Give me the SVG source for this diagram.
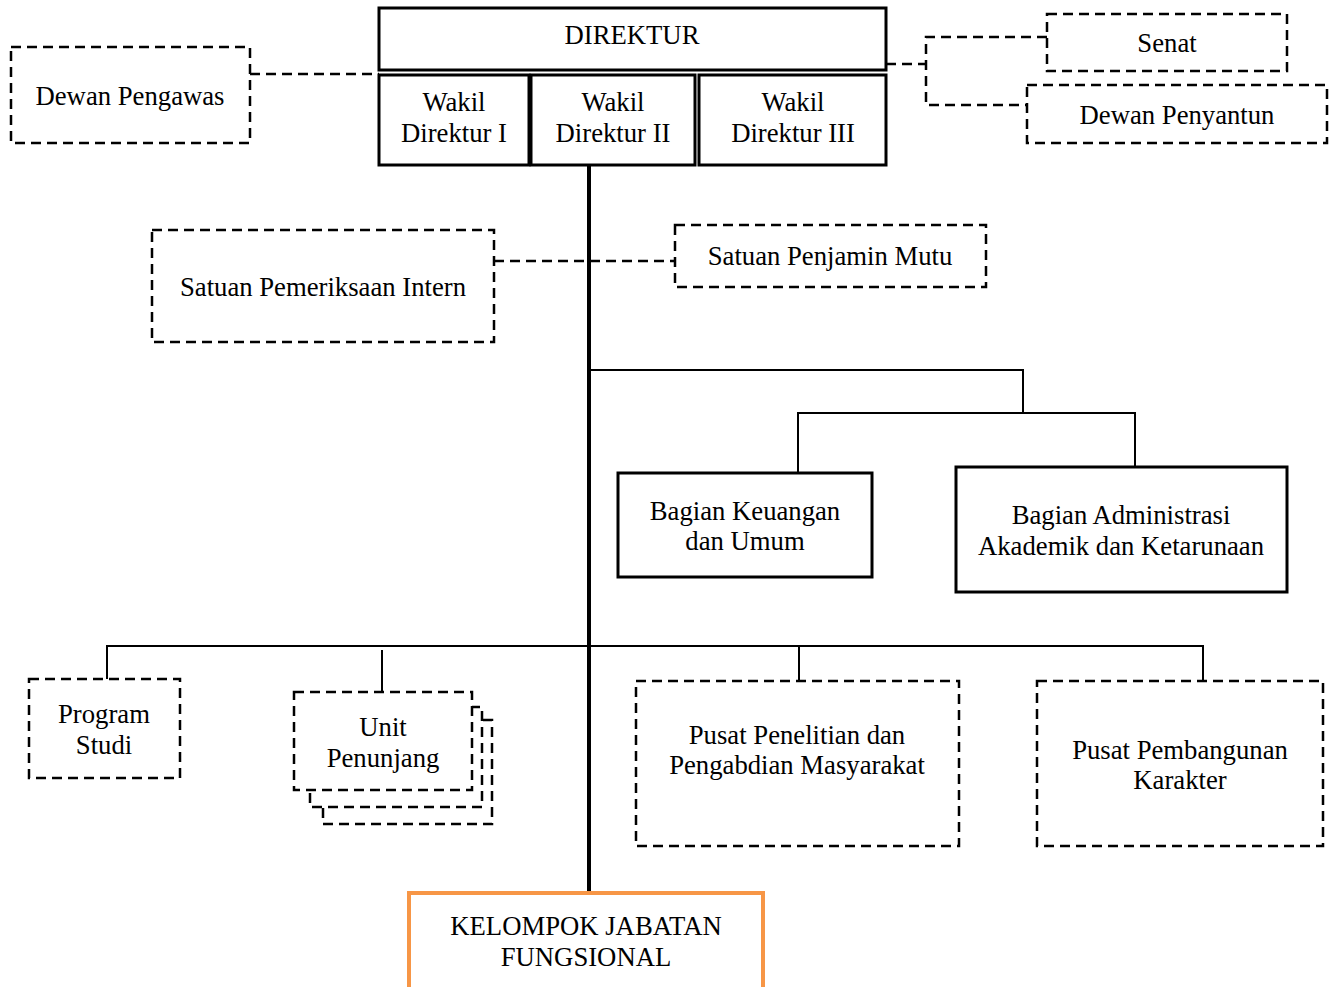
<svg xmlns="http://www.w3.org/2000/svg" width="1337" height="987" viewBox="0 0 1337 987">
<style>
.solid{fill:#fff;stroke:#000;stroke-width:3}
.dash{fill:#fff;stroke:#000;stroke-width:2.5;stroke-dasharray:10 6}
.dl{fill:none;stroke:#000;stroke-width:2.5;stroke-dasharray:10 6}
.thin{fill:none;stroke:#000;stroke-width:2}
.main{fill:none;stroke:#000;stroke-width:4}
text{font-family:"Liberation Serif","Times New Roman",serif;font-size:26.7px;fill:#000;text-anchor:middle}
</style>
<rect width="1337" height="987" fill="#fff"/>
<g id="connectors">
<polyline class="dl" points="250,74 379,74"/>
<polyline class="dl" points="886,64 926,64"/>
<polyline class="dl" points="1047,37 926,37 926,105 1027,105"/>
<polyline class="dl" points="494,261 675,261"/>
<line class="main" x1="589" y1="165" x2="589" y2="892"/>
<polyline class="thin" points="589,370 1023,370 1023,413"/>
<polyline class="thin" points="798,473 798,413 1135,413 1135,467"/>
<polyline class="thin" points="107,679 107,646 1203,646 1203,681"/>
<line class="thin" x1="382" y1="650" x2="382" y2="692"/>
<line class="thin" x1="799" y1="646" x2="799" y2="681"/>
</g>
<g id="direktur"><rect class="solid" x="379" y="8" width="507" height="62"/><text x="632" y="44">DIREKTUR</text></g>
<g id="wakil1"><rect class="solid" x="379" y="75" width="150" height="90"/><text x="454" y="111">Wakil</text><text x="454" y="142">Direktur I</text></g>
<g id="wakil2"><rect class="solid" x="531" y="75" width="164" height="90"/><text x="613" y="111">Wakil</text><text x="613" y="142">Direktur II</text></g>
<g id="wakil3"><rect class="solid" x="699" y="75" width="187" height="90"/><text x="793" y="111">Wakil</text><text x="793" y="142">Direktur III</text></g>
<g id="dewan-pengawas"><rect class="dash" x="11" y="47" width="239" height="96"/><text x="130" y="105">Dewan Pengawas</text></g>
<g id="senat"><rect class="dash" x="1047" y="14" width="240" height="57"/><text x="1167" y="52">Senat</text></g>
<g id="dewan-penyantun"><rect class="dash" x="1027" y="85" width="300" height="58"/><text x="1177" y="124">Dewan Penyantun</text></g>
<g id="spi"><rect class="dash" x="152" y="230" width="342" height="112"/><text x="323" y="296">Satuan Pemeriksaan Intern</text></g>
<g id="spm"><rect class="dash" x="675" y="225" width="311" height="62"/><text x="830" y="265">Satuan Penjamin Mutu</text></g>
<g id="keuangan"><rect class="solid" x="618" y="473" width="254" height="104"/><text x="745" y="520">Bagian Keuangan</text><text x="745" y="550">dan Umum</text></g>
<g id="administrasi"><rect class="solid" x="956" y="467" width="331" height="125"/><text x="1121" y="524">Bagian Administrasi</text><text x="1121" y="555">Akademik dan Ketarunaan</text></g>
<g id="prodi"><rect class="dash" x="29" y="679" width="151" height="99"/><text x="104" y="723">Program</text><text x="104" y="754">Studi</text></g>
<g id="unit-penunjang">
<rect class="dash" x="323" y="720" width="169" height="104"/>
<rect class="dash" x="310" y="707" width="172" height="100"/>
<rect class="dash" x="294" y="692" width="178" height="98"/>
<text x="383" y="736">Unit</text><text x="383" y="767">Penunjang</text></g>
<g id="p3m"><rect class="dash" x="636" y="681" width="323" height="165"/><text x="797" y="744">Pusat Penelitian dan</text><text x="797" y="774">Pengabdian Masyarakat</text></g>
<g id="ppk"><rect class="dash" x="1037" y="681" width="286" height="165"/><text x="1180" y="759">Pusat Pembangunan</text><text x="1180" y="789">Karakter</text></g>
<g id="kjf"><rect x="409" y="893" width="354" height="100" fill="#fff" stroke="#F79646" stroke-width="4"/><text x="586" y="935">KELOMPOK JABATAN</text><text x="586" y="966">FUNGSIONAL</text></g>
</svg>
